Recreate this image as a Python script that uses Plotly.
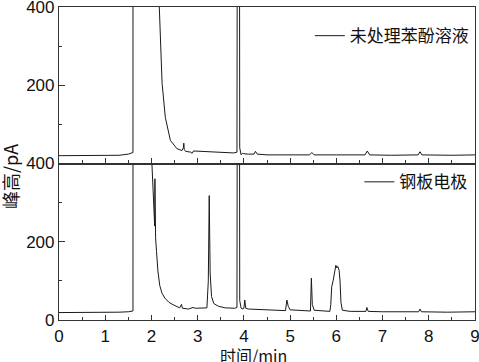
import plotly.graph_objects as go
from plotly.subplots import make_subplots

# 未处理苯酚溶液 (top panel)
t_raw = [0, 0.5, 1.0, 1.3, 1.5, 1.58, 1.6, 1.605, 2.15, 2.17, 2.19, 2.23, 2.3, 2.41, 2.55,
         2.66, 2.69, 2.70, 2.71, 2.74, 2.85, 2.88, 2.91, 3.1, 3.4, 3.6, 3.78, 3.85, 3.885,
         3.91, 3.94, 3.97, 4.0, 4.1, 4.22, 4.25, 4.29, 4.5, 5.0, 5.42, 5.47, 5.52, 6.0,
         6.62, 6.67, 6.72, 7.2, 7.77, 7.81, 7.85, 8.5, 9.0]
y_raw = [20, 20, 20, 21, 24, 26, 28, 3000, 3000, 400, 333, 205, 118, 59, 38,
         33, 40, 52, 36, 31, 29, 26, 32, 31, 29, 28, 27, 29, 3000,
         40, 22, 26, 25, 24, 24, 31, 24, 22, 22, 22, 28, 22, 22,
         22, 32, 22, 21, 22, 30, 22, 21, 22]

# 钢板电极 (bottom panel)
t_steel = [0, 0.5, 1.0, 1.3, 1.5, 1.6, 1.605, 1.99, 2.01, 2.04, 2.06, 2.07, 2.075, 2.08,
           2.09, 2.11, 2.14, 2.18, 2.23, 2.29, 2.38, 2.47, 2.61, 2.65, 2.67, 2.8, 2.9,
           2.95, 3.1, 3.2, 3.23, 3.25, 3.27, 3.30, 3.35, 3.45, 3.6, 3.8, 3.85, 3.885,
           3.91, 3.94, 3.98, 4.0, 4.02, 4.04, 4.1, 4.3, 4.6, 4.9, 4.93, 4.96, 5.0,
           5.44, 5.46, 5.48, 5.52, 5.86, 5.88, 5.9, 5.93, 5.96, 5.99, 6.01, 6.03, 6.06,
           6.08, 6.1, 6.13, 6.3, 6.64, 6.66, 6.69, 7.0, 7.5, 7.78, 7.81, 7.84, 8.4, 9.0]
y_steel = [19, 19, 19, 20, 21, 23, 3000, 3000, 400, 300, 250, 240, 361, 234,
           210, 175, 125, 88, 68, 56, 45, 39, 31, 40, 30, 28, 32,
           30, 30, 31, 100, 318, 120, 60, 42, 35, 31, 30, 32, 3000,
           50, 30, 28, 30, 51, 30, 28, 27, 25, 24, 51, 35, 26,
           23, 107, 40, 25, 22, 40, 85, 100, 125, 140, 133, 137, 127,
           100, 45, 25, 22, 22, 32, 22, 21, 20, 21, 28, 21, 20, 21]

x_ticks = [0, 1, 2, 3, 4, 5, 6, 7, 8, 9]
y_ticks = [0, 200, 400]

fig = make_subplots(rows=2, cols=1, shared_xaxes=True, vertical_spacing=0)

fig.add_trace(go.Scatter(x=t_raw, y=y_raw, mode="lines", name="未处理苯酚溶液",
                         line=dict(color="#1a1a1a", width=1), legend="legend"), row=1, col=1)
fig.add_trace(go.Scatter(x=t_steel, y=y_steel, mode="lines", name="钢板电极",
                         line=dict(color="#1a1a1a", width=1), legend="legend2"), row=2, col=1)

axis_common = dict(showline=True, linecolor="#333", linewidth=1.2, mirror=True,
                   ticks="inside", tickcolor="#333", tickwidth=1, showgrid=False,
                   zeroline=False, automargin=False, ticklabeloverflow="allow",
                   tickfont=dict(family="Liberation Sans, Arial", size=17, color="#111"))

fig.update_xaxes(range=[0, 9], tickvals=x_ticks, ticklen=5,
                 minor=dict(ticks="inside", dtick=0.5, ticklen=3, tickcolor="#333", showgrid=False),
                 **axis_common)
fig.update_xaxes(showticklabels=False, row=1, col=1)
fig.update_xaxes(showticklabels=True, row=2, col=1)

fig.update_yaxes(range=[0, 400], tickvals=y_ticks, ticklen=6,
                 minor=dict(ticks="inside", dtick=100, ticklen=3, tickcolor="#333", showgrid=False),
                 **axis_common)
fig.update_yaxes(ticktext=["", "200", "400"], row=1, col=1)
fig.update_yaxes(ticktext=["0", "200", "400"], row=2, col=1)

cjk = "Noto Sans CJK SC"
fig.update_layout(
    width=479, height=362,
    margin=dict(l=59, r=4, t=7, b=42, autoexpand=False),
    paper_bgcolor="white", plot_bgcolor="white",
    showlegend=True,
    legend=dict(x=0.603, y=0.907, xanchor="left", yanchor="middle",
                font=dict(family=cjk, size=17, color="#111"), bgcolor="rgba(0,0,0,0)"),
    legend2=dict(x=0.722, y=0.44, xanchor="left", yanchor="middle",
                 font=dict(family=cjk, size=17, color="#111"), bgcolor="rgba(0,0,0,0)"),
    annotations=[
        dict(text="时间/min", xref="paper", yref="paper", x=0.468, y=-0.112,
             xanchor="center", yanchor="middle", showarrow=False,
             font=dict(family=cjk, size=16, color="#111")),
        dict(text="峰高/pA", xref="paper", yref="paper", x=-0.118, y=0.46,
             xanchor="center", yanchor="middle", showarrow=False, textangle=-90,
             font=dict(family=cjk, size=18, color="#111")),
    ],
)

fig.write_html("out.html", config={"displayModeBar": False},
               post_script="document.body.style.margin='0';document.body.style.overflow='hidden';")
